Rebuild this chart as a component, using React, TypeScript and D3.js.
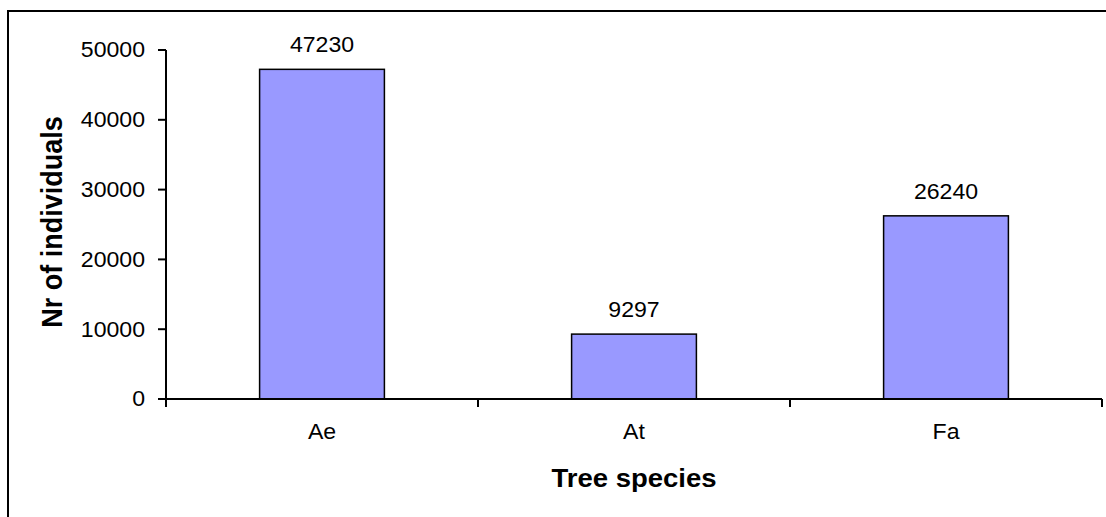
import React from "react";
import * as d3 from "d3";

const categories = ["Ae", "At", "Fa"];
const values = [47230, 9297, 26240];
const yTicks = [0, 10000, 20000, 30000, 40000, 50000];
const xTitle = "Tree species";
const yTitle = "Nr of individuals";

const W = 1106;
const H = 517;
const left = 166;
const right = 1102;
const top = 50;
const bottom = 399;
const FONT = "'Liberation Sans', Arial, sans-serif";
const SX = 1.05;
const TSX = 1.1;

export default function App() {
  const x = d3.scaleBand<string>().domain(categories).range([left, right]).paddingInner(0.6).paddingOuter(0.3);
  const y = d3.scaleLinear().domain([0, 50000]).range([bottom, top]);
  const boundaries = [left, ...categories.map((c) => (x(c) as number) - x.step() * 0.3 + x.step())];

  return (
    <svg width={W} height={H} style={{ position: "absolute", left: 0, top: 0, background: "#fff" }} fontFamily={FONT}>
      <rect x={0} y={0} width={W} height={H} fill="#fff" />
      {/* outer frame */}
      <rect x={8} y={11} width={W + 20} height={H + 20} fill="none" stroke="#000" strokeWidth={2} />
      {/* bars */}
      {categories.map((c, i) => (
        <g key={c}>
          <rect x={x(c)} y={y(values[i])} width={x.bandwidth()} height={bottom - y(values[i])} fill="#9999FF" stroke="#000" strokeWidth={1.5} />
          <text transform={`translate(${(x(c) as number) + x.bandwidth() / 2},${y(values[i]) - 17}) scale(${SX},1)`} textAnchor="middle" fontSize={22} fill="#000">
            {values[i]}
          </text>
          <text transform={`translate(${(x(c) as number) + x.bandwidth() / 2},439) scale(${SX},1)`} textAnchor="middle" fontSize={22} fill="#000">
            {c}
          </text>
        </g>
      ))}
      {/* y axis */}
      <line x1={left} x2={left} y1={top} y2={bottom} stroke="#000" strokeWidth={2} />
      {yTicks.map((t) => (
        <g key={t}>
          <line x1={left - 8} x2={left} y1={y(t)} y2={y(t)} stroke="#000" strokeWidth={2} />
          <text transform={`translate(${145},${y(t)}) scale(${SX},1)`} textAnchor="end" dominantBaseline="central" fontSize={22} fill="#000">
            {t}
          </text>
        </g>
      ))}
      {/* x axis */}
      <line x1={left} x2={right} y1={bottom} y2={bottom} stroke="#000" strokeWidth={2} />
      {boundaries.map((b, i) => (
        <line key={i} x1={b} x2={b} y1={bottom} y2={bottom + 8} stroke="#000" strokeWidth={2} />
      ))}
      {/* titles */}
      <text transform={`translate(${(left + right) / 2},487) scale(${TSX},1)`} textAnchor="middle" fontSize={25} fontWeight="bold" fill="#000">
        {xTitle}
      </text>
      <text transform={`translate(62,${222}) scale(${TSX},1) rotate(-90)`} textAnchor="middle" fontSize={27} fontWeight="bold" fill="#000">
        {yTitle}
      </text>
    </svg>
  );
}
